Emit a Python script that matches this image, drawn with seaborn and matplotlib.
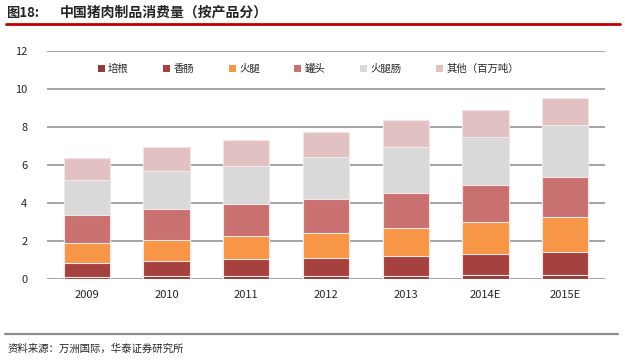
import numpy as np
import pandas as pd
import matplotlib
matplotlib.use("Agg")
import matplotlib.pyplot as plt
from matplotlib.patches import Patch
from matplotlib.lines import Line2D
import seaborn as sns

years = ["2009", "2010", "2011", "2012", "2013", "2014E", "2015E"]
series_names = ["培根", "香肠", "火腿", "罐头", "火腿肠", "其他（百万吨）"]
bacon   = [0.10, 0.16, 0.16, 0.14, 0.14, 0.21, 0.21]
sausage = [0.74, 0.80, 0.88, 0.95, 1.09, 1.12, 1.23]
ham     = [1.06, 1.09, 1.21, 1.33, 1.45, 1.65, 1.82]
canned  = [1.47, 1.63, 1.68, 1.79, 1.85, 1.97, 2.11]
hamsaus = [1.83, 2.00, 2.03, 2.19, 2.40, 2.54, 2.72]
other   = [1.15, 1.27, 1.36, 1.34, 1.42, 1.39, 1.45]
colors = ["#8E3B3B", "#A5413F", "#F79646", "#C87170", "#D9D9D9", "#E2C1C3"]
yticks = [0, 2, 4, 6, 8, 10, 12]

sns.set_style("white")
plt.rcParams["font.family"] = ["Noto Sans CJK SC", "DejaVu Sans"]

fig = plt.figure(figsize=(6.25, 3.64), dpi=100)
ax = fig.add_axes([47/625, 1 - 279/364, (605-47)/625, (279-51)/364])

values = [bacon, sausage, ham, canned, hamsaus, other]
cum = np.cumsum(np.array(values), axis=0)
df = pd.DataFrame({"year": years})
for i in range(len(series_names) - 1, -1, -1):
    df["v"] = cum[i]
    sns.barplot(data=df, x="year", y="v", color=colors[i], saturation=1,
                width=0.58, edgecolor="#F3E6E6", linewidth=0.8, ax=ax, zorder=3)

ax.set_ylim(0, 12)
ax.set_xlim(-0.5, 6.5)
ax.set_yticks(yticks)
ax.set_yticklabels([str(t) for t in yticks], fontsize=8)
ax.set_xlabel("")
ax.set_ylabel("")
ax.tick_params(axis="x", labelsize=8, length=0, pad=8)
ax.tick_params(axis="y", length=0, pad=14)
for t in yticks:
    ax.axhline(t, color="#8C8C8C", lw=1.1, zorder=1)
for s in ax.spines.values():
    s.set_visible(False)

handles = [Patch(facecolor=c, edgecolor="none") for c in colors]
ax.legend(handles, series_names, loc="upper center", bbox_to_anchor=(0.468, 0.985),
          ncol=6, frameon=False, fontsize=7.5, handlelength=0.7, handleheight=0.7,
          handletextpad=0.3, columnspacing=3.3)

fig.text(6/625, 1 - 13/364, "图18:", fontsize=9.5, fontweight="bold", va="center", ha="left")
fig.text(60/625, 1 - 13/364, "中国猪肉制品消费量（按产品分）", fontsize=10, fontweight="bold",
         va="center", ha="left")
fig.add_artist(Line2D([6/625, 620/625], [1 - 23.7/364] * 2, color="#C00000", lw=2))
fig.add_artist(Line2D([5/625, 618/625], [1 - 334/364] * 2, color="#8C8C8C", lw=1.6))
fig.text(8/625, 1 - 349/364, "资料来源：万洲国际，华泰证券研究所", fontsize=7.5,
         va="center", ha="left", style="italic")

fig.savefig("out.png", dpi=100)
